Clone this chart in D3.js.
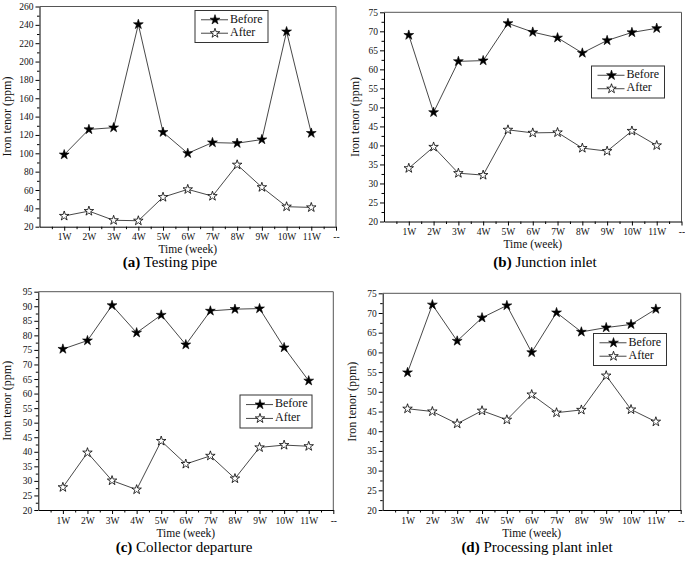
<!DOCTYPE html>
<html>
<head>
<meta charset="utf-8">
<script src="https://cdn.jsdelivr.net/npm/d3@7"></script>
<style>
body{margin:0;background:#fff;}
svg{display:block;}
svg text{font-family:"Liberation Serif","Times New Roman",serif !important;}
</style>
</head>
<body>
<svg id="chart" width="685" height="563"></svg>
<script>
// ---- data ----
const weeks = ["1W","2W","3W","4W","5W","6W","7W","8W","9W","10W","11W","--"];
const seriesNames = ["Before","After"];

const testingBefore = [98.5,126,128,240.5,123,100,111.7,111,115,232.6,122];
const testingAfter  = [31.7,37,27,26.5,52.2,60.7,53.3,87.5,63,41.8,41];

const junctionBefore = [69,48.7,62.1,62.3,72.1,69.8,68.3,64.3,67.6,69.7,70.8];
const junctionAfter  = [34,39.6,32.7,32.2,44.1,43.3,43.4,39.3,38.5,43.8,40];

const collectorBefore = [75.3,78.2,90.3,80.9,87,76.8,88.4,89,89.2,75.8,64.4];
const collectorAfter  = [27.8,39.7,30.1,27,43.7,35.8,38.6,30.8,41.5,42.3,41.9];

const plantBefore = [54.9,72.1,62.9,68.8,71.9,60,70.1,65.2,66.3,67.1,71];
const plantAfter  = [45.7,45,41.9,45.2,42.9,49.3,44.7,45.4,54.1,45.5,42.4];

const yTicksA = [20,40,60,80,100,120,140,160,180,200,220,240,260];
const yTicksB = [20,25,30,35,40,45,50,55,60,65,70,75];
const yTicksC = [20,25,30,35,40,45,50,55,60,65,70,75,80,85,90,95];
const yTicksD = [20,25,30,35,40,45,50,55,60,65,70,75];

const captionTags = ["(a)","(b)","(c)","(d)"];
const captionTexts = [" Testing pipe"," Junction inlet"," Collector departure"," Processing plant inlet"];
const xTitle = "Time (week)";
const yTitle = "Iron tenor (ppm)";

// ---- layout ----
const panels = [
  {before:testingBefore, after:testingAfter, yTicks:yTicksA,
   left:39.5,right:336,top:6.5,bottom:226.7, yTitleX:8, legend:{x:195,y:10.5,w:73,h:32},
   xTitleY:250, capY:264, capX:170},
  {before:junctionBefore, after:junctionAfter, yTicks:yTicksB,
   left:384,right:681.5,top:12.3,bottom:221.5, yTitleX:356, legend:{x:591.5,y:66,w:73,h:32},
   xTitleY:245, capY:264, capX:545},
  {before:collectorBefore, after:collectorAfter, yTicks:yTicksC,
   left:38.3,right:333.3,top:291.7,bottom:510, yTitleX:8, legend:{x:240,y:395,w:72,h:33},
   xTitleY:534, capY:549, capX:184},
  {before:plantBefore, after:plantAfter, yTicks:yTicksD,
   left:382.7,right:680.7,top:293.3,bottom:510, yTitleX:353, legend:{x:593.5,y:333.5,w:73,h:32},
   xTitleY:534, capY:549, capX:537},
];

const SERIF = "'Liberation Serif','Times New Roman',serif";
const svg = d3.select("#chart");
const starFilled = d3.symbol().type(d3.symbolStar).size(30);
const starOpen = d3.symbol().type(d3.symbolStar).size(28);

panels.forEach((p, pi) => {
  const g = svg.append("g");
  const x = d3.scaleLinear().domain([0, 12]).range([p.left, p.right]);
  const yMin = p.yTicks[0], yMax = p.yTicks[p.yTicks.length-1];
  const y = d3.scaleLinear().domain([yMin, yMax]).range([p.bottom, p.top]);
  const step = p.yTicks[1]-p.yTicks[0];

  // frame top/right
  g.append("line").attr("x1",p.left).attr("x2",p.right).attr("y1",p.top).attr("y2",p.top)
    .attr("stroke","#555").attr("stroke-width",1);
  g.append("line").attr("x1",p.right).attr("x2",p.right).attr("y1",p.top).attr("y2",p.bottom)
    .attr("stroke","#555").attr("stroke-width",1);

  // y minor
  const minorY = p.yTicks.slice(0,-1).map(v => v + step/2);
  g.append("g").attr("transform",`translate(${p.left},0)`)
    .call(d3.axisLeft(y).tickValues(minorY).tickSize(2.5).tickFormat(""))
    .call(a => a.select(".domain").remove());
  // y major
  const ya = g.append("g").attr("transform",`translate(${p.left},0)`)
    .call(d3.axisLeft(y).tickValues(p.yTicks).tickSize(4).tickSizeOuter(0).tickPadding(2));
  ya.attr("font-family", SERIF);
  ya.selectAll("text").attr("font-size","9.5px").style("font-family",SERIF).attr("fill","#111");

  // x minor
  const minorX = d3.range(0.5, 12, 1);
  g.append("g").attr("transform",`translate(0,${p.bottom})`)
    .call(d3.axisBottom(x).tickValues(minorX).tickSize(2.5).tickFormat(""))
    .call(a => a.select(".domain").remove());
  const xa = g.append("g").attr("transform",`translate(0,${p.bottom})`)
    .call(d3.axisBottom(x).tickValues(d3.range(1,13)).tickSize(4).tickSizeOuter(0).tickPadding(3)
      .tickFormat(i => weeks[i-1]));
  xa.attr("font-family", SERIF);
  xa.selectAll("text").attr("font-size","9.5px").style("font-family",SERIF).attr("fill","#111");
  g.selectAll(".domain").attr("stroke","#000");
  g.selectAll(".tick line").attr("stroke","#000");

  // titles
  g.append("text").attr("x",(p.left+p.right)/2).attr("y",p.xTitleY).attr("text-anchor","middle")
    .attr("dominant-baseline","middle").attr("font-size","11.5px").style("font-family",SERIF).attr("fill","#111").text(xTitle);
  g.append("text").attr("transform",`translate(${p.yTitleX},${(p.top+p.bottom)/2}) rotate(-90)`)
    .attr("text-anchor","middle").attr("dominant-baseline","middle").attr("font-size","12px").style("font-family",SERIF).attr("fill","#111").text(yTitle);
  const cap = g.append("text").attr("x",p.capX).attr("y",p.capY).attr("text-anchor","middle")
    .attr("dominant-baseline","middle").attr("font-size","15px").style("font-family",SERIF).attr("fill","#000");
  cap.append("tspan").attr("font-weight","bold").text(captionTags[pi]);
  cap.append("tspan").text(captionTexts[pi]);

  // lines
  const line = d3.line().x((d,i)=>x(i+1)).y(d=>y(d));
  [p.before, p.after].forEach((vals, si) => {
    g.append("path").datum(vals).attr("d", line).attr("fill","none")
      .attr("stroke","#333").attr("stroke-width",0.9);
    g.selectAll(null).data(vals).enter().append("path")
      .attr("transform",(d,i)=>`translate(${x(i+1)},${y(d)})`)
      .attr("d", si===0 ? starFilled : starOpen)
      .attr("fill", si===0 ? "#000" : "#fff")
      .attr("stroke","#000").attr("stroke-width", si===0 ? 0.6 : 0.8);
  });

  // legend
  const L = p.legend;
  const lg = g.append("g");
  lg.append("rect").attr("x",L.x).attr("y",L.y).attr("width",L.w).attr("height",L.h)
    .attr("fill","#fff").attr("stroke","#333").attr("stroke-width",1);
  seriesNames.forEach((nm, si) => {
    const cy = L.y + L.h*(si===0 ? 0.29 : 0.71);
    lg.append("line").attr("x1",L.x+6).attr("x2",L.x+33).attr("y1",cy).attr("y2",cy)
      .attr("stroke","#333").attr("stroke-width",0.9);
    lg.append("path").attr("transform",`translate(${L.x+20},${cy})`)
      .attr("d", si===0 ? starFilled : starOpen)
      .attr("fill", si===0 ? "#000" : "#fff").attr("stroke","#000").attr("stroke-width", si===0?0.6:0.8);
    lg.append("text").attr("x",L.x+35).attr("y",cy).attr("dominant-baseline","middle")
      .attr("font-size","12px").style("font-family",SERIF).attr("fill","#111").text(nm);
  });
});
</script>
</body>
</html>
